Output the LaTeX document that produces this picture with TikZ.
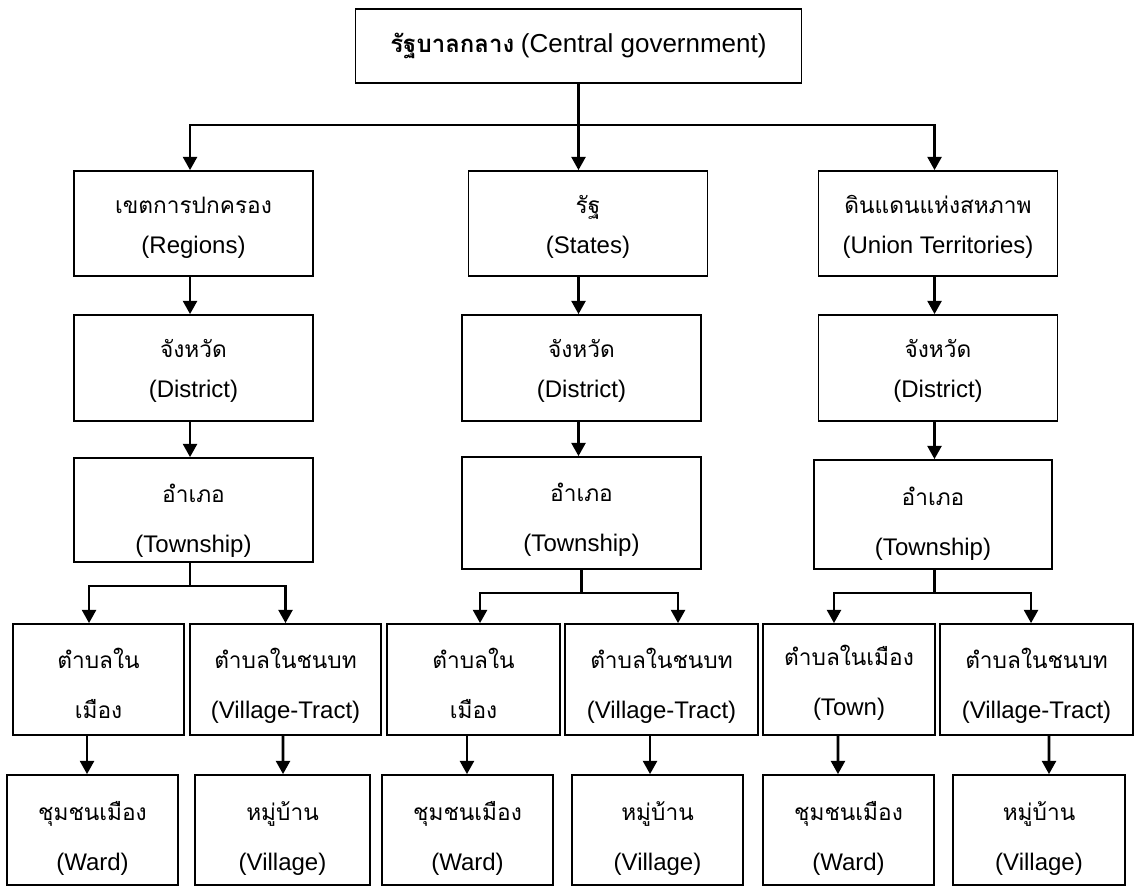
\documentclass[tikz,border=0pt]{standalone}
\usepackage{fontspec}
\setmainfont{Liberation Sans}
\newfontfamily\thaifont[Script=Thai]{Loma}
\usetikzlibrary{arrows.meta,positioning}
\newcommand\tx[1]{{\thaifont\fontsize{17}{20}\selectfont #1}}

\begin{document}
\begin{tikzpicture}[x=0.75pt, y=-0.75pt,
  every node/.style={font=\fontsize{18}{30}\selectfont},
  b/.style={draw, line width=1.3pt, align=center, inner sep=0pt, minimum height=78.75pt},
  wide/.style={font=\fontsize{18}{37.5}\selectfont},
  tl/.style={text height=#1, text depth=0pt},
  ln/.style={line width=1.6pt},
  arr/.style={line width=2pt, -{Triangle[width=10.5pt,length=10pt]}}]
\useasboundingbox (0,0) rectangle (1134,886);
% top
\node[b, minimum width=334.5pt, minimum height=55.5pt] (top) at (578.5,46)
  {{\thaifont\bfseries\fontsize{18}{20}\selectfont รัฐบาลกลาง} {\fontsize{19.5}{20}\selectfont(Central government)}};
% first level
\node[b, tl=44.25pt, minimum width=179.25pt] (reg) at (193.5,223.5) {\tx{เขตการปกครอง}\\(Regions)};
\node[b, tl=44.25pt, minimum width=179.25pt] (sta) at (588,223.5) {\tx{รัฐ}\\(States)};
\node[b, tl=44.25pt, minimum width=179.25pt] (uni) at (938,223.5) {\tx{ดินแดนแห่งสหภาพ}\\(Union Territories)};
% districts
\node[b, tl=43.5pt, minimum width=179.25pt, minimum height=79.5pt] (d1) at (193.5,368) {\tx{จังหวัด}\\(District)};
\node[b, tl=43.5pt, minimum width=179.25pt, minimum height=79.5pt] (d2) at (581.5,368) {\tx{จังหวัด}\\(District)};
\node[b, tl=43.5pt, minimum width=179.25pt, minimum height=79.5pt] (d3) at (938,368) {\tx{จังหวัด}\\(District)};
% townships
\node[b, wide, tl=63pt, minimum width=179.25pt, minimum height=78pt] (t1) at (193.5,510) {\tx{อำเภอ}\\(Township)};
\node[b, wide, tl=57pt, minimum width=179.25pt, minimum height=84pt] (t2) at (581.5,513) {\tx{อำเภอ}\\(Township)};
\node[b, wide, tl=60.75pt, minimum width=178.9pt, minimum height=81.75pt] (t3) at (933,514.5) {\tx{อำเภอ}\\(Township)};
% tracts
\node[b, wide, tl=57.75pt, minimum width=128.25pt, minimum height=83.25pt] (a1) at (98.5,679.5) {\tx{ตำบลใน}\\\tx{เมือง}};
\node[b, wide, tl=57.75pt, minimum width=143.25pt, minimum height=83.25pt] (a2) at (285.5,679.5) {\tx{ตำบลในชนบท}\\(Village-Tract)};
\node[b, wide, tl=57.75pt, minimum width=129.75pt, minimum height=83.25pt] (a3) at (473.5,679.5) {\tx{ตำบลใน}\\\tx{เมือง}};
\node[b, wide, tl=57.75pt, minimum width=144.75pt, minimum height=83.25pt] (a4) at (661.5,679.5) {\tx{ตำบลในชนบท}\\(Village-Tract)};
\node[b, wide, tl=53.25pt, minimum width=129pt, minimum height=83.25pt] (a5) at (849,679.5) {\tx{ตำบลในเมือง}\\(Town)};
\node[b, wide, tl=57.75pt, minimum width=144.75pt, minimum height=83.25pt] (a6) at (1036.5,679.5) {\tx{ตำบลในชนบท}\\(Village-Tract)};
% wards and villages
\node[b, wide, tl=60pt, minimum width=128.25pt, minimum height=82.5pt] (b1) at (92.5,830) {\tx{ชุมชนเมือง}\\(Ward)};
\node[b, wide, tl=60pt, minimum width=131.25pt, minimum height=82.5pt] (b2) at (282.5,830) {\tx{หมู่บ้าน}\\(Village)};
\node[b, wide, tl=60pt, minimum width=128.25pt, minimum height=82.5pt] (b3) at (467.5,830) {\tx{ชุมชนเมือง}\\(Ward)};
\node[b, wide, tl=60pt, minimum width=128.25pt, minimum height=82.5pt] (b4) at (657.5,830) {\tx{หมู่บ้าน}\\(Village)};
\node[b, wide, tl=60pt, minimum width=128.25pt, minimum height=82.5pt] (b5) at (848.5,830) {\tx{ชุมชนเมือง}\\(Ward)};
\node[b, wide, tl=60pt, minimum width=129pt, minimum height=82.5pt] (b6) at (1039,830) {\tx{หมู่บ้าน}\\(Village)};

\draw[ln] (top.south) -- ++(0,41) coordinate (bus);
\draw[arr] (bus) -| ([xshift=-2.6pt]reg.north);
\draw[arr] (bus) -- (bus |- sta.north);
\draw[arr] (bus) -| ([xshift=-2.6pt]uni.north);
\draw[arr] ([xshift=-2.6pt]reg.south) -- ([xshift=-2.6pt]d1.north);
\draw[arr] ([xshift=-7.1pt]sta.south) -- ([xshift=-2.25pt]d2.north);
\draw[arr] ([xshift=-2.6pt]uni.south) -- ([xshift=-2.6pt]d3.north);
\draw[arr] ([xshift=-2.6pt]d1.south) -- ([xshift=-2.6pt]t1.north);
\draw[arr] ([xshift=-2.25pt]d2.south) -- ([xshift=-2.25pt]t2.north);
\draw[arr] ([xshift=-2.6pt]d3.south) -- ([xshift=1.1pt]t3.north);
\draw[ln] ([xshift=-2.6pt]t1.south) -- ++(0,23) coordinate (f1);
\draw[arr] (f1) -| ([xshift=-7.1pt]a1.north);
\draw[arr] (f1) -| (a2.north);
\draw[ln] (t2.south) -- ++(0,23) coordinate (f2);
\draw[arr] (f2) -| ([xshift=4.9pt]a3.north);
\draw[arr] (f2) -| ([xshift=12.4pt]a4.north);
\draw[ln] ([xshift=1.1pt]t3.south) -- ++(0,23) coordinate (f3);
\draw[arr] (f3) -| ([xshift=-11.25pt]a5.north);
\draw[arr] (f3) -| ([xshift=-4.1pt]a6.north);
\foreach \u/\v/\p/\q in {a1/b1/-8.6/-4.1, a2/b2/-1.9/0.4, a3/b3/-4.9/-0.4,
    a4/b4/-8.6/-5.6, a5/b5/-8.25/-7.9, a6/b6/9.4/7.5}
  \draw[arr] ([xshift=\p pt]\u.south) -- ([xshift=\q pt]\v.north);
\end{tikzpicture}
\end{document}
